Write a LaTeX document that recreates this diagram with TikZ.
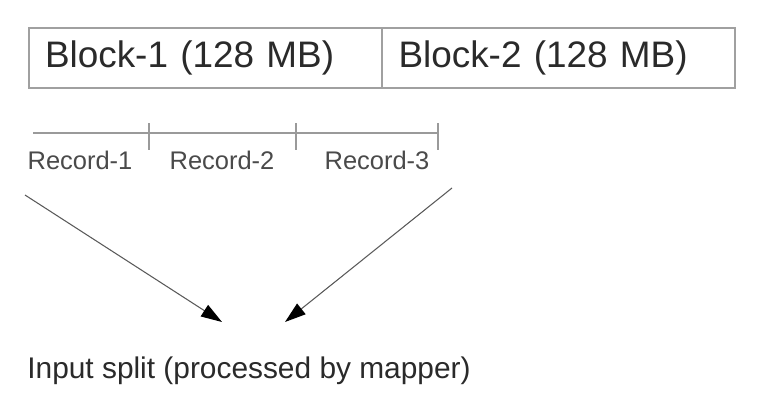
\documentclass[tikz,border=0pt]{standalone}
\usepackage{fontspec}
\setmainfont{Liberation Sans}
\usetikzlibrary{arrows.meta}
\definecolor{boxline}{HTML}{A0A0A0}
\definecolor{recline}{HTML}{9A9A9A}
\definecolor{inktext}{HTML}{2A2A2A}
\tikzset{
  block/.style={draw=boxline, line width=1.1pt, minimum width=7.06cm, minimum height=1.2cm,
    text width=6.4cm, inner xsep=0.33cm, align=left, text=inktext, font=\fontsize{21}{24}\selectfont},
  record/.style={text=inktext!85, font=\fontsize{14.5}{17}\selectfont},
  feed/.style={draw=black!65, line width=0.6pt, -{Triangle[black, length=0.42cm, width=0.27cm]}}
}
\begin{document}
\begin{tikzpicture}[x=0.02cm, y=-0.02cm]
    \useasboundingbox (0,0) rectangle (770,406);

    \node[block] (blk1) at (205,58) {Block-1 (128 MB)};
    \node[block] (blk2) at (558.5,58) {Block-2 (128 MB)};

    % records of the split
    \coordinate (r0) at (33,133);
    \coordinate (r1) at (149,133);
    \coordinate (r2) at (296,133);
    \coordinate (r3) at (438,133);
    \draw [recline, line width=1.5pt] (r0) -- (r3);
    \foreach \t in {r1,r2,r3}
      \draw [recline, line width=1pt] ([yshift=0.2cm]\t) -- ([yshift=-0.34cm]\t);

    \node[record] (rec1) at (80,160) {Record-1};
    \node[record] (rec2) at (222,160) {Record-2};
    \node[record] (rec3) at (377,160) {Record-3};

    \coordinate (a1) at (25,195);
    \coordinate (b1) at (222,322);
    \coordinate (a2) at (452,188);
    \coordinate (b2) at (285,322);
    \draw [feed] (a1) -- (b1);
    \draw [feed] (a2) -- (b2);

    \node[text=inktext, font=\fontsize{17}{20}\selectfont] (split) at (249,371) {Input split (processed by mapper)};
\end{tikzpicture}
\end{document}
